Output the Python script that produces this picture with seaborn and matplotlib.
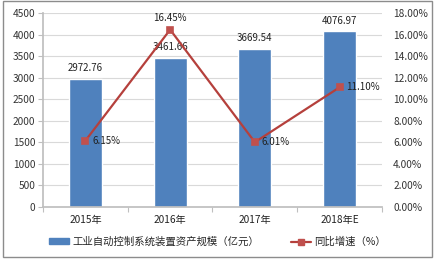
import matplotlib
matplotlib.use("Agg")
import matplotlib.pyplot as plt
import seaborn as sns
import pandas as pd
from matplotlib.ticker import FuncFormatter, MultipleLocator
from matplotlib.patches import Rectangle
from matplotlib.lines import Line2D

years = ["2015年", "2016年", "2017年", "2018年E"]
scale = [2972.76, 3461.66, 3669.54, 4076.97]
growth = [6.15, 16.45, 6.01, 11.10]
bar_label = "工业自动控制系统装置资产规模（亿元）"
line_label = "同比增速（%）"

sns.set_theme(style="white")
plt.rcParams['font.family'] = ['Noto Sans CJK SC', 'DejaVu Sans']

BAR = "#4F81BD"
LINE = "#B5403C"
MARK = "#C0504D"
FS = 7.3

fig = plt.figure(figsize=(4.35, 2.59), dpi=100)
ax = fig.add_axes([0.099, 0.201, 0.779, 0.749])
df = pd.DataFrame({"year": years, "scale": scale, "growth": growth})
sns.barplot(data=df, x="year", y="scale", color=BAR, width=0.39, saturation=1, ax=ax)
ax.set_ylim(0, 4500)
ax.yaxis.set_major_locator(MultipleLocator(500))
ax.yaxis.grid(True, color="#D9D9D9", linewidth=0.8)
ax.set_axisbelow(True)
ax.set_xlabel("")
ax.set_ylabel("")
ax.set_xlim(-0.5, 3.5)
for s in ["top", "right"]:
    ax.spines[s].set_visible(False)
ax.spines["left"].set_color("#BFBFBF")
ax.spines["bottom"].set_color("#BFBFBF")
ax.tick_params(axis="y", labelsize=FS, pad=2, length=3.5, width=0.8, color="#BFBFBF",
               left=True, labelcolor="#333333")
ax.tick_params(axis="x", labelsize=FS, pad=6, length=0, labelcolor="#222222")
ax.set_xticks([-0.5, 0.5, 1.5, 2.5, 3.5], minor=True)
ax.tick_params(axis="x", which="minor", length=3.5, width=0.8, color="#BFBFBF", bottom=True)

for p, v in zip(ax.patches, scale):
    ax.annotate(f"{v:.2f}", (p.get_x() + p.get_width() / 2, p.get_height()),
                xytext=(0, 4), textcoords="offset points", ha="center", va="bottom",
                fontsize=FS - 0.3, color="#222222")

ax2 = ax.twinx()
sns.pointplot(data=df, x="year", y="growth", ax=ax2, color=LINE, marker="s",
              markersize=5, linewidth=1.6, markerfacecolor=MARK, markeredgecolor=MARK)
ax2.set_ylim(0, 18)
ax2.set_xlim(-0.5, 3.5)
ax2.yaxis.set_major_locator(MultipleLocator(2))
ax2.yaxis.set_major_formatter(FuncFormatter(lambda v, p: f"{v:.2f}%"))
ax2.tick_params(axis="y", labelsize=FS, pad=8, length=0, labelcolor="#333333")
ax2.set_ylabel("")
ax2.set_xlabel("")
for s in ["top", "left", "bottom", "right"]:
    ax2.spines[s].set_visible(False)

offsets = [(5, 0, "left", "center"), (0, 5, "center", "bottom"),
           (5, 0, "left", "center"), (5, 0, "left", "center")]
for i, (g, (dx, dy, ha, va)) in enumerate(zip(growth, offsets)):
    ax2.annotate(f"{g:.2f}%", (i, g), xytext=(dx, dy), textcoords="offset points",
                 ha=ha, va=va, fontsize=FS - 0.3, color="#222222")

handles = [Rectangle((0, 0), 1, 1, color=BAR),
           Line2D([0], [0], color=LINE, lw=1.6, marker="s", markersize=5,
                  markerfacecolor=MARK, markeredgecolor=MARK)]
fig.legend(handles, [bar_label, line_label], loc="center", bbox_to_anchor=(0.5, 0.066),
           ncol=2, frameon=False, fontsize=FS + 0.2, handlelength=2.0, columnspacing=3.0,
           handletextpad=0.3, handleheight=0.5)

fig.patches.append(Rectangle((3 / 435, 2 / 259), 429 / 435, 256 / 259, transform=fig.transFigure,
                             fill=False, edgecolor="#8C8C8C", linewidth=1))

fig.savefig("out.png", dpi=100)
